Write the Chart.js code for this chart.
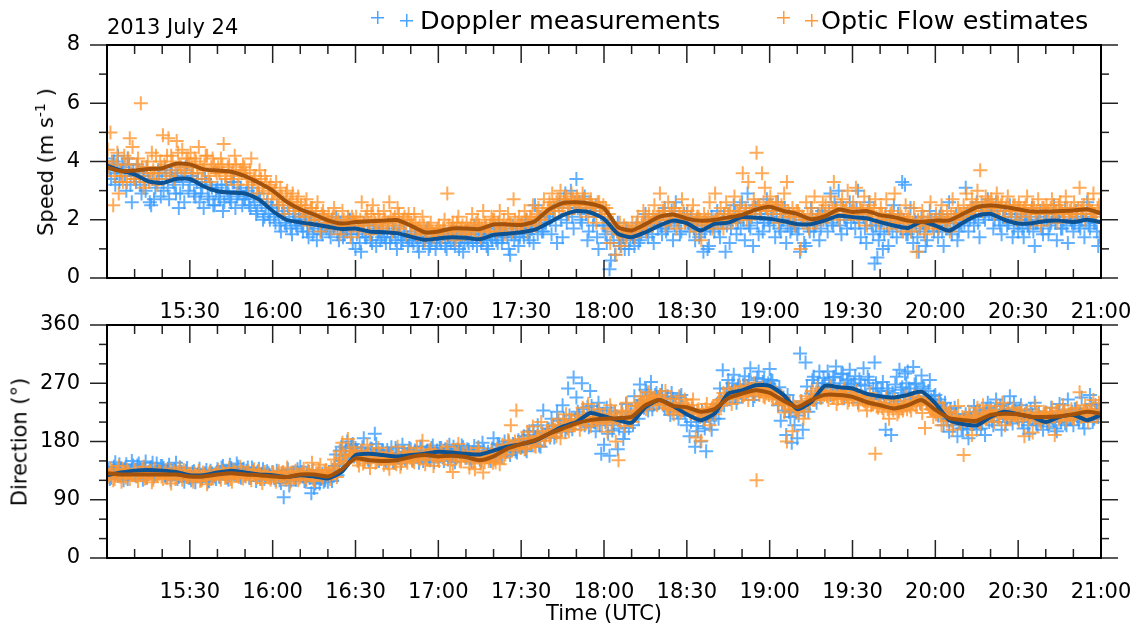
<!DOCTYPE html>
<html>
<head>
<meta charset="utf-8">
<script src="https://cdn.jsdelivr.net/npm/chart.js@4.4.1/dist/chart.umd.min.js"></script>
<style>
  body { margin: 0; width: 1138px; height: 627px; background: #fff; position: relative; overflow: hidden;
         font-family: "DejaVu Sans", sans-serif; color: #000; }
  canvas { position: absolute; left: 0; }
  .txt { position: absolute; white-space: nowrap; line-height: 1; }
  .rot { position: absolute; white-space: nowrap; line-height: 1; font-size: 21px;
         transform: translate(-50%, -50%) rotate(-90deg); }
  .mk { position: absolute; width: 13px; height: 13px; }
</style>
</head>
<body>
<canvas id="speedChart" width="1138" height="320" style="top:0"></canvas>
<canvas id="dirChart" width="1138" height="347" style="top:280px"></canvas>

<div class="txt" style="left:107px;top:17px;font-size:21px">2013 July 24</div>
<div class="mk" style="left:371px;top:11px;background:linear-gradient(#4aa3ff,#4aa3ff) center/1.5px 100% no-repeat,linear-gradient(#4aa3ff,#4aa3ff) center/100% 1.5px no-repeat"></div>
<div class="mk" style="left:400px;top:14px;background:linear-gradient(#4aa3ff,#4aa3ff) center/1.5px 100% no-repeat,linear-gradient(#4aa3ff,#4aa3ff) center/100% 1.5px no-repeat"></div>
<div class="txt" style="left:420px;top:8px;font-size:25.5px">Doppler measurements</div>
<div class="mk" style="left:777px;top:11px;background:linear-gradient(#ff9a3c,#ff9a3c) center/1.5px 100% no-repeat,linear-gradient(#ff9a3c,#ff9a3c) center/100% 1.5px no-repeat"></div>
<div class="mk" style="left:805px;top:14px;background:linear-gradient(#ff9a3c,#ff9a3c) center/1.5px 100% no-repeat,linear-gradient(#ff9a3c,#ff9a3c) center/100% 1.5px no-repeat"></div>
<div class="txt" style="left:821px;top:8px;font-size:25.5px">Optic Flow estimates</div>

<div class="rot" style="left:45px;top:162px">Speed (m s<sup style="font-size:14px">-1</sup> )</div>
<div class="rot" style="left:20px;top:442px">Direction (°)</div>
<div class="txt" style="left:604px;top:603px;font-size:21px;transform:translateX(-50%)">Time (UTC)</div>

<script>
// minutes after 15:00 UTC
// smoothed curves, one value every 5 minutes (15:00 .. 21:00)
const dopplerSpeedSmooth = [
  3.86,3.69,3.56,3.32,3.26,3.40,3.40,3.15,2.98,2.93,2.90,2.70,2.30,2.00,1.91,1.84,1.76,1.68,1.70,1.60,
  1.57,1.54,1.42,1.31,1.36,1.40,1.38,1.33,1.48,1.52,1.57,1.66,1.90,2.15,2.30,2.25,2.03,1.52,1.40,1.57,
  1.80,1.97,1.88,1.63,1.86,1.90,2.09,2.07,2.03,1.95,1.85,1.85,1.98,2.14,2.09,2.05,1.92,1.80,1.72,1.93,
  1.80,1.62,1.90,2.14,2.20,2.00,1.87,1.88,1.96,1.97,1.92,2.00,1.92
];
const opticSpeedSmooth = [
  3.80,3.67,3.69,3.74,3.77,3.92,3.90,3.73,3.69,3.65,3.50,3.27,3.00,2.62,2.36,2.18,1.98,1.87,1.92,1.95,
  1.97,1.99,1.80,1.57,1.60,1.70,1.70,1.68,1.84,1.84,1.82,1.95,2.35,2.57,2.60,2.55,2.40,1.75,1.63,1.85,
  2.10,2.18,2.04,1.97,2.00,2.08,2.17,2.35,2.45,2.30,2.20,2.02,2.12,2.35,2.27,2.30,2.16,2.09,1.97,1.92,
  1.97,1.98,2.20,2.43,2.49,2.44,2.36,2.28,2.28,2.30,2.32,2.36,2.22
];
const dopplerDirSmooth = [
  128,132,135,136,135,133,128,128,132,135,132,129,128,125,128,126,123,133,159,161,
  159,157,159,161,164,163,161,160,166,172,176,181,192,203,210,224,219,213,209,233,
  244,235,222,213,223,254,259,267,266,252,230,241,266,264,262,254,250,248,252,257,
  239,213,207,205,218,226,222,218,210,218,221,213,221
];
const opticDirSmooth = [
  131,129,129,129,129,129,126,126,129,131,129,128,126,125,129,129,126,137,154,151,
  150,151,156,159,157,158,156,151,157,169,176,182,192,200,208,213,215,216,218,236,
  244,235,233,226,230,247,254,259,255,243,233,244,252,252,249,241,236,231,236,244,
  229,216,213,212,221,223,222,218,218,219,222,226,223
];

// individual estimates, one value per minute in each list
// Doppler A on the minute, Doppler B +30 s; optic flow A +15 s, optic flow B +45 s
const dopplerSpeedA = [
  4.1,3.7,3.9,3.2,4.2,3.6,3.8,3.0,3.9,2.6, 3.5,3.9,3.2,3.6,3.0,3.4,2.5,2.7,3.3,3.6,
  3.4,3.8,3.1,3.6,3.3,2.9,2.4,3.5,2.6,3.9, 3.2,3.6,2.8,3.4,2.9,2.4,3.3,2.7,3.1,2.5,
  3.1,2.7,2.3,3.2,2.9,2.6,3.3,2.8,3.0,2.5, 2.7,3.0,2.4,2.8,2.2,2.9,2.5,2.1,2.6,2.0,
  2.4,1.9,2.2,1.6,2.3,1.8,2.1,1.5,2.0,1.7, 2.0,1.6,2.2,1.4,1.9,1.7,1.3,2.0,1.5,1.8,
  1.9,1.4,1.7,2.1,1.3,1.8,1.5,1.6,2.0,1.2, 1.0,1.7,0.9,1.9,1.4,1.6,1.2,1.8,1.5,1.3,
  1.7,1.2,1.9,1.4,1.6,1.0,1.8,1.3,1.5,1.1, 1.6,1.2,1.4,0.9,1.5,1.3,1.7,1.1,1.4,1.0,
  1.5,1.2,1.6,1.0,1.4,1.7,1.1,1.5,1.3,0.9, 1.6,1.2,1.4,1.8,1.1,1.5,1.3,1.7,1.0,1.4,
  1.7,1.3,1.9,1.2,1.6,1.4,0.8,1.8,1.5,1.1, 1.8,1.4,2.0,1.3,1.7,2.5,1.5,2.1,1.6,1.9,
  2.1,1.5,2.4,1.2,2.6,1.4,2.9,2.2,3.0,1.7, 3.4,2.6,1.9,2.8,1.3,2.4,1.8,2.5,1.0,2.2,
  1.8,1.2,0.3,1.6,0.8,1.9,1.1,1.4,1.7,1.0, 1.6,1.1,1.9,1.3,1.7,2.2,1.4,1.8,1.2,2.0,
  2.1,1.5,2.4,1.7,2.0,1.3,2.6,1.9,1.6,2.2, 2.2,1.6,1.9,1.3,2.0,1.5,0.9,1.8,1.1,2.1,
  1.6,2.3,1.4,2.0,0.9,2.2,1.7,2.5,1.5,2.1, 2.6,1.3,2.9,1.7,1.1,2.4,1.5,2.2,1.9,2.7,
  1.8,2.3,1.4,2.6,1.6,2.0,1.2,2.2,1.7,1.9, 1.5,0.9,2.1,1.1,1.8,2.4,1.6,2.0,1.3,2.3,
  2.2,1.6,2.9,1.8,2.4,3.0,1.5,2.1,1.7,2.6, 2.3,1.7,3.0,1.4,2.1,1.2,2.6,1.8,0.5,0.7,
  1.6,1.0,2.2,1.1,1.9,2.5,1.4,2.0,3.3,3.2, 1.5,2.4,1.2,1.9,0.9,2.1,1.6,1.3,2.3,1.8,
  2.0,1.4,2.2,1.1,1.7,2.6,1.5,2.0,1.3,1.9, 2.1,3.1,1.6,2.3,1.8,2.6,1.4,2.4,2.0,2.7,
  2.4,1.7,2.6,2.0,1.5,2.3,1.8,2.5,1.4,2.1, 1.6,2.2,1.4,2.0,1.7,2.4,1.1,1.9,2.3,1.5,
  2.2,1.5,1.9,2.5,1.3,2.1,1.7,2.4,1.2,2.0, 1.6,2.3,1.8,2.0,1.4,2.6,1.7,2.2,1.9,1.1
];
const dopplerSpeedB = [
  3.8,3.4,4.0,3.6,3.3,3.9,3.5,4.1,3.2,3.7, 3.3,3.7,2.9,3.5,3.8,2.6,3.4,3.1,3.7,2.8,
  3.0,3.5,2.7,3.7,3.2,3.6,2.9,3.3,3.8,3.0, 3.5,2.9,3.3,2.6,3.1,3.4,2.8,3.2,2.5,3.0,
  2.8,3.2,2.6,3.0,2.7,3.3,2.4,2.9,3.1,2.7, 2.9,2.5,3.1,2.6,2.3,2.7,2.0,2.4,2.2,2.5,
  2.1,2.5,1.8,2.2,1.9,2.4,1.7,2.2,1.8,2.1, 1.8,2.1,1.6,1.9,1.5,2.1,1.8,1.6,2.1,1.7,
  1.6,2.0,1.8,1.5,1.9,1.4,1.7,2.0,1.5,1.8, 1.5,1.2,1.6,1.4,1.8,1.3,1.7,1.1,1.6,1.4,
  1.4,1.6,1.2,1.7,1.3,1.5,1.2,1.6,1.4,1.3, 1.3,1.5,1.1,1.4,1.2,1.6,1.0,1.3,1.5,1.2,
  1.3,1.5,1.1,1.4,1.2,1.3,1.6,1.0,1.4,1.2, 1.3,1.5,1.2,1.4,1.6,1.2,1.4,1.1,1.5,1.3,
  1.5,1.2,1.6,1.4,1.7,1.0,1.5,1.3,1.7,1.4, 1.6,1.9,1.5,1.7,1.2,1.8,2.0,1.6,1.9,2.2,
  2.0,2.3,1.8,2.5,2.0,2.7,1.9,2.4,2.1,2.6, 2.4,2.0,2.7,2.2,1.6,2.5,2.1,1.4,2.3,1.8,
  1.5,2.0,0.6,1.3,1.7,1.2,1.5,1.0,1.6,1.3, 1.4,1.7,1.2,1.5,1.9,1.6,1.8,1.5,2.0,1.7,
  1.8,2.2,1.6,1.9,2.3,1.8,2.0,1.5,2.1,1.9, 1.9,2.1,1.7,2.0,1.4,1.8,1.6,1.0,1.7,1.9,
  2.0,1.7,1.9,2.2,1.8,1.2,2.0,2.3,1.9,1.7, 2.0,2.3,1.8,2.1,2.5,1.9,2.2,1.6,2.4,2.0,
  2.1,1.9,2.2,1.7,2.0,2.4,1.8,1.6,2.1,1.8, 1.7,2.0,1.2,1.9,1.6,2.1,1.8,2.2,1.7,2.0,
  2.0,2.3,1.9,2.6,2.1,1.8,2.4,2.0,2.2,1.9, 2.1,2.4,1.9,2.2,1.7,2.3,2.0,1.5,1.8,1.3,
  1.9,1.5,1.8,2.1,1.6,1.9,2.2,1.7,2.0,1.5, 1.8,1.6,2.0,1.4,1.7,1.9,1.1,1.8,2.0,1.6,
  1.8,2.1,1.6,1.9,2.0,1.7,1.9,2.2,1.6,1.8, 1.9,2.2,2.0,2.4,2.1,1.9,2.3,2.1,2.5,2.2,
  2.2,2.0,2.3,1.8,2.1,2.4,1.9,2.2,1.7,2.0, 1.9,1.7,2.1,1.8,2.0,1.6,1.9,2.1,1.7,2.0,
  2.0,1.8,2.2,1.9,2.1,1.7,2.0,1.8,2.2,1.9, 1.9,2.1,1.7,2.2,2.0,1.8,2.1,1.9,1.6,1.4
];
const opticSpeedA = [
  4.4,5.0,2.5,3.9,2.9,3.5,4.2,3.3,4.8,4.5, 3.4,4.1,6.0,3.1,3.8,3.3,4.3,3.6,3.2,4.0,
  4.9,3.6,4.8,4.2,3.4,4.7,3.9,4.4,3.7,4.1, 4.3,3.6,4.0,4.5,3.4,3.9,4.2,3.3,4.1,3.7,
  3.8,4.1,4.6,3.4,3.9,3.6,4.2,3.2,3.7,3.9, 3.6,3.2,4.1,3.4,2.9,3.7,3.1,3.5,2.7,3.2,
  2.9,3.3,2.5,2.8,2.2,3.0,2.6,2.9,2.3,2.8, 2.5,2.1,2.7,1.8,2.4,2.0,2.6,1.6,2.3,1.9,
  2.2,1.7,2.4,1.9,1.5,2.3,1.8,2.1,1.4,2.0, 2.1,1.6,2.6,1.8,2.3,1.5,2.5,1.9,2.2,1.7,
  2.3,1.8,2.6,1.6,2.1,2.4,1.7,2.0,1.5,2.2, 1.9,2.2,1.5,1.8,2.1,1.3,1.7,1.9,1.4,1.6,
  1.8,1.4,2.0,2.9,1.6,1.9,1.3,2.1,1.7,1.5, 1.9,1.5,2.2,1.7,2.0,1.4,2.3,1.8,1.6,2.1,
  2.0,1.6,2.3,1.8,1.5,2.2,1.9,2.7,1.7,2.1, 1.9,2.3,1.6,2.1,2.5,1.8,2.4,2.0,2.7,2.2,
  2.6,2.9,2.3,2.7,3.0,2.4,2.8,2.2,2.9,2.5, 2.8,2.3,2.9,2.5,2.1,2.7,2.4,1.9,2.6,2.2,
  2.1,1.7,1.2,1.9,0.8,1.5,1.1,1.8,1.4,1.6, 1.9,1.4,2.1,1.7,2.3,1.6,2.2,1.9,2.5,2.0,
  2.9,2.3,1.8,2.6,2.0,2.4,1.7,2.2,2.7,1.9, 2.3,1.8,2.5,1.6,2.1,1.3,2.2,1.9,2.6,1.7,
  2.9,2.0,2.4,1.7,2.6,2.2,1.9,2.8,2.3,2.5, 3.6,2.4,3.3,2.1,2.7,4.3,2.5,3.6,3.1,2.3,
  2.8,2.2,2.6,1.9,2.5,2.9,3.3,2.1,2.4,1.8, 2.3,1.0,2.0,2.6,1.7,2.4,2.8,1.9,2.2,2.6,
  2.5,2.1,2.8,3.3,2.4,2.0,2.7,2.3,3.0,2.2, 2.6,3.1,2.0,2.4,2.8,1.8,2.5,2.2,2.7,1.9,
  2.4,2.0,2.7,1.7,2.3,2.9,1.9,2.2,1.6,2.5, 2.1,1.6,2.4,0.9,1.8,2.3,1.5,2.0,2.6,1.7,
  2.2,1.7,2.5,1.9,2.3,1.6,2.7,2.0,2.4,2.2, 2.5,2.9,2.2,2.7,2.4,3.0,3.7,2.3,2.8,2.6,
  2.7,2.2,2.9,2.4,2.6,2.1,2.8,2.3,2.5,2.0, 2.6,2.1,2.4,2.8,1.9,2.5,2.2,2.7,1.8,2.4,
  2.5,2.0,2.7,2.3,1.9,2.6,2.2,2.8,2.1,2.4, 2.6,2.2,3.1,2.4,2.0,2.7,2.3,2.9,2.1,2.5
];
const opticSpeedB = [
  3.8,4.0,3.5,4.3,3.7,3.3,3.9,4.1,3.6,3.4, 3.9,3.5,3.8,3.3,4.0,3.6,3.7,4.2,3.4,3.8,
  3.9,4.2,3.5,4.0,3.7,4.3,3.8,3.6,4.1,3.9, 3.8,4.1,3.6,3.9,3.7,4.2,3.5,3.8,3.9,3.6,
  3.6,3.9,3.5,3.8,3.4,3.7,3.9,3.5,3.6,3.8, 3.4,3.7,3.3,3.5,3.2,3.4,3.0,3.3,3.1,2.9,
  3.0,2.7,3.1,2.6,2.9,2.5,2.7,2.4,2.6,2.3, 2.3,2.5,2.2,2.4,2.1,2.3,2.0,2.2,2.1,2.0,
  1.9,2.1,1.8,2.0,1.7,2.0,1.9,1.8,2.1,1.9, 1.9,2.0,1.8,2.1,1.9,2.2,2.0,1.8,2.0,1.9,
  2.0,1.9,2.1,2.0,1.8,2.2,1.9,2.1,2.0,1.8, 1.8,1.9,1.7,1.6,1.8,1.5,1.7,1.6,1.5,1.7,
  1.6,1.7,1.5,1.8,1.6,1.7,1.9,1.6,1.8,1.7, 1.7,1.8,1.6,1.9,1.8,1.7,1.9,1.6,1.8,2.0,
  1.8,1.9,1.7,2.0,1.8,1.9,1.6,2.0,1.9,1.8, 1.8,2.0,1.9,2.1,1.9,2.2,2.0,2.3,2.2,2.4,
  2.4,2.5,2.6,2.3,2.5,2.7,2.6,2.5,2.7,2.6, 2.6,2.5,2.7,2.4,2.6,2.5,2.3,2.6,2.4,2.5,
  2.4,2.2,1.9,1.7,1.6,1.9,1.6,1.4,1.7,1.5, 1.6,1.8,1.7,1.9,1.8,2.0,1.9,2.1,2.0,2.2,
  2.1,2.3,2.0,2.2,2.1,2.4,2.0,2.1,2.3,2.0, 2.0,2.2,1.9,2.1,2.0,1.8,2.0,2.1,1.9,2.0,
  2.0,2.1,1.9,2.2,2.0,2.3,2.1,2.0,2.2,2.1, 2.2,2.0,2.3,2.4,2.2,2.5,2.3,2.6,2.4,2.5,
  2.5,2.4,2.6,2.3,2.4,2.2,2.3,2.1,2.2,2.3, 2.2,2.1,2.0,2.2,2.1,1.9,2.0,2.1,2.0,2.2,
  2.1,2.2,2.4,2.3,2.2,2.5,2.3,2.4,2.2,2.3, 2.3,2.2,2.4,2.3,2.1,2.3,2.2,2.4,2.1,2.2,
  2.2,2.1,2.0,2.2,2.1,1.9,2.0,2.1,1.9,2.0, 2.0,1.9,1.8,2.0,1.9,2.1,1.8,1.9,2.0,1.9,
  1.9,2.0,2.1,1.9,2.0,2.2,2.1,2.0,2.2,2.1, 2.2,2.3,2.4,2.3,2.5,2.4,2.6,2.5,2.4,2.5,
  2.5,2.4,2.6,2.5,2.3,2.5,2.4,2.3,2.5,2.4, 2.4,2.3,2.5,2.2,2.3,2.4,2.3,2.2,2.4,2.3,
  2.3,2.4,2.2,2.3,2.5,2.3,2.2,2.4,2.3,2.2, 2.3,2.4,2.3,2.5,2.2,2.4,2.3,2.2,2.4,2.3
];
const dopplerDirA = [
  140,122,135,148,127,138,120,145,131,150, 128,143,137,121,149,133,140,126,146,135,
  142,127,138,120,135,147,125,133,118,139, 124,133,117,130,122,128,136,119,131,126,
  137,125,142,130,121,139,133,146,128,136, 127,140,124,135,119,138,130,122,134,128,
  133,121,129,116,94,127,112,131,123,137,  141,126,118,134,100,108,125,115,130,120,
  118,127,135,160,145,172,158,180,165,176, 170,152,165,185,158,149,168,192,162,155,
  166,150,160,171,147,163,155,175,152,161, 168,153,164,147,172,158,166,151,174,160,
  157,170,150,166,175,159,148,168,162,171, 155,167,149,173,160,152,178,158,164,150,
  185,162,174,156,180,168,159,176,165,182, 171,188,165,196,178,184,205,172,228,190,
  199,215,186,226,205,236,195,262,212,279, 248,222,270,205,233,258,214,196,240,161,
  175,232,158,197,225,168,210,184,238,201, 222,250,235,268,244,260,228,272,238,255,
  240,258,232,250,221,246,237,215,252,228, 205,188,230,172,196,180,210,165,222,198,
  215,238,262,290,248,275,255,283,240,268, 252,281,265,293,244,270,288,258,276,262,
  292,274,260,236,212,248,190,226,178,205, 185,316,198,302,226,254,280,240,288,265,
  270,288,252,279,296,260,284,247,274,291, 255,281,240,268,293,250,275,238,302,262,
  246,272,198,258,190,237,280,291,264,285, 288,256,295,270,248,282,262,240,275,230,
  252,220,238,205,226,195,214,232,188,210, 200,222,185,215,235,198,228,210,190,240,
  232,205,245,220,198,238,215,250,208,228, 215,236,200,228,192,222,240,205,218,198,
  225,203,232,212,196,238,220,208,245,215, 205,230,212,248,200,225,252,210,236,218
];
const dopplerDirB = [
  136,124,141,130,145,127,138,122,134,143, 127,146,133,140,124,138,147,129,136,142,
  139,126,144,131,137,122,140,128,135,124, 120,134,127,138,123,131,118,135,129,122,
  126,140,132,124,144,135,128,141,124,138, 135,124,140,129,133,122,137,126,131,124,
  124,135,120,131,126,137,119,132,121,129, 133,119,129,124,136,115,131,122,118,128,
  126,119,142,128,166,150,170,152,174,157, 166,154,171,160,152,169,157,176,150,165,
  152,167,158,149,170,161,146,164,156,170, 151,166,157,172,150,163,155,170,148,166,
  170,156,168,152,163,172,155,165,174,158, 168,154,163,157,171,150,166,160,155,169,
  158,176,162,170,164,180,166,175,163,178, 182,168,190,175,196,181,174,193,185,200,
  186,204,193,212,198,215,202,220,199,214, 226,208,230,215,202,235,210,228,205,222,
  210,192,228,205,218,200,226,195,215,222, 205,226,215,240,232,256,240,230,252,246,
  252,236,248,230,255,240,226,248,234,220, 230,210,225,204,218,228,200,220,212,226,
  228,215,245,236,262,250,270,248,266,255, 268,254,275,262,250,278,260,272,256,270,
  275,262,250,264,240,228,252,218,240,225, 220,242,230,265,238,275,252,270,248,278,
  258,275,262,280,255,270,285,260,276,268, 270,258,276,250,266,280,245,262,270,248,
  258,240,262,245,255,268,242,260,250,270, 262,245,268,255,240,265,250,258,245,250,
  235,245,225,240,215,230,205,222,212,200, 215,198,220,208,225,212,200,222,230,210,
  212,228,218,235,222,210,230,218,240,225, 228,210,222,205,230,215,208,225,212,220,
  208,222,215,200,225,210,228,205,220,226, 230,215,225,210,228,220,238,215,224,230
];
const opticDirA = [
  125,138,120,133,142,118,130,136,122,128, 135,119,128,141,124,132,117,138,127,133,
  122,136,129,115,134,126,140,121,131,125, 130,118,127,135,120,129,114,133,124,128,
  136,121,131,125,139,118,132,127,141,123, 126,134,120,137,124,130,116,133,128,121,
  131,118,134,122,128,140,115,127,135,120, 126,138,121,133,147,119,129,144,124,136,
  131,140,152,125,165,178,148,184,160,171, 158,143,166,150,175,139,161,147,170,153,
  144,162,138,156,149,172,141,158,153,165, 163,148,170,152,181,145,160,168,142,157,
  150,166,155,172,144,133,161,176,149,158, 163,140,155,137,170,146,132,159,150,165,
  152,168,145,175,160,182,205,170,228,178, 184,168,195,176,203,172,188,210,181,196,
  188,205,198,215,185,210,222,196,214,205, 220,198,232,210,238,204,225,216,230,208,
  222,195,236,212,180,151,228,204,240,218, 210,235,226,250,238,230,256,242,248,236,
  252,238,258,230,246,222,240,250,228,245, 236,224,245,186,230,181,215,238,205,232,
  222,240,235,255,246,262,238,258,248,265, 250,266,244,260,270,120,252,264,248,258,
  262,245,256,238,250,225,180,240,196,230, 228,242,215,250,236,258,244,262,248,255,
  258,244,265,250,238,256,247,262,240,254, 245,258,236,250,242,228,255,238,161,232,
  240,226,248,215,235,244,222,238,228,250, 242,228,250,236,246,224,201,238,230,218,
  222,240,205,230,212,226,198,218,235,208, 159,215,226,190,220,232,208,236,214,225,
  228,210,235,218,240,205,226,215,232,220, 212,230,188,225,218,194,235,220,208,226,
  224,210,232,190,228,218,236,212,222,230, 215,232,256,220,236,210,228,244,218,240
];
const opticDirB = [
  128,135,122,131,126,138,124,133,129,136, 126,132,137,123,130,135,121,129,134,126,
  131,124,137,128,122,133,127,136,125,130, 123,131,126,119,132,125,130,122,128,131,
  127,134,124,130,122,136,128,125,133,129, 131,124,133,127,135,122,130,126,124,132,
  124,130,127,133,121,126,132,123,129,124, 132,125,134,127,122,131,136,126,133,128,
  122,130,137,145,155,160,150,166,157,163, 150,160,146,157,163,152,158,149,162,155,
  155,146,160,152,145,158,150,163,147,155, 150,160,155,163,157,152,166,158,163,152,
  162,155,165,158,152,163,156,150,162,155, 155,162,149,158,165,153,148,156,160,147,
  148,157,163,155,168,175,166,180,172,170, 178,170,185,180,174,188,182,192,186,195,
  190,196,188,202,198,206,200,212,205,210, 214,206,218,210,222,212,218,208,220,215,
  212,220,208,225,216,210,222,215,226,212, 222,228,236,240,246,242,250,244,238,248,
  246,240,232,238,228,236,230,225,232,236, 230,236,222,228,218,224,230,220,228,234,
  236,244,240,250,246,255,248,256,252,258, 252,258,262,256,254,262,258,250,256,252,
  250,254,248,246,240,236,238,230,234,228, 232,236,226,240,246,244,250,254,248,252,
  250,256,248,254,246,252,258,250,244,248, 252,246,250,244,238,242,236,240,234,238,
  232,238,230,235,228,234,226,232,238,230, 234,240,236,244,238,248,242,236,230,226,
  226,220,232,218,224,212,220,216,210,218, 212,216,208,214,220,210,218,224,216,222,
  220,226,218,224,228,222,216,226,220,224, 224,218,222,214,220,216,224,212,218,222,
  216,222,218,226,214,220,224,218,222,216, 222,226,218,228,224,230,222,226,220,228
];

const SMOOTH_STEP = 5;  // minutes between smoothed values
const BLUE_PT = 'rgba(58,156,255,0.8)';
const ORANGE_PT = 'rgba(255,150,48,0.8)';
const BLUE_LINE = '#0d5394';
const BROWN_LINE = '#a3520c';

Chart.defaults.font.family = "'DejaVu Sans', sans-serif";
Chart.defaults.color = '#000';

function toPoints(values, step, offset) {
    return values.map((v, i) => ({ x: i * step + offset, y: v }));
}

function timeLabel(m) {
    const h = 15 + Math.floor(m / 60);
    const mm = m % 60;
    return h + ':' + (mm < 10 ? '0' : '') + mm;
}

// frame and major/minor tick marks, drawn from the scales
const frameTicks = {
    id: 'frameTicks',
    afterDatasetsDraw(chart, args, opts) {
        const { ctx, chartArea: a, scales: { x, y } } = chart;
        ctx.save();
        ctx.strokeStyle = '#222';
        ctx.lineWidth = 1.5;
        const seg = (x1, y1, x2, y2) => { ctx.beginPath(); ctx.moveTo(x1, y1); ctx.lineTo(x2, y2); ctx.stroke(); };
        // time ticks point inwards, every 10 min, longer every 30
        for (let m = 0; m <= 360; m += 10) {
            const px = x.getPixelForValue(m);
            const len = m % 30 === 0 ? 18 : 9;
            seg(px, a.bottom, px, a.bottom - len);
            seg(px, a.top, px, a.top + len);
        }
        // value ticks point outwards on both sides
        const n = Math.round((y.max - y.min) / opts.minor);
        for (let k = 0; k <= n; k++) {
            const v = y.min + k * opts.minor;
            const py = y.getPixelForValue(v);
            const len = (k * opts.minor) % opts.major === 0 ? 17 : 8;
            seg(a.left - len, py, a.left, py);
            seg(a.right, py, a.right + len, py);
        }
        ctx.lineWidth = 2;
        ctx.strokeStyle = '#000';
        ctx.strokeRect(a.left, a.top, a.right - a.left, a.bottom - a.top);
        ctx.restore();
    }
};

function crossSet(values, offset, color, order) {
    return {
        data: toPoints(values, 1, offset), order: order,
        pointStyle: 'cross', radius: 7, borderWidth: 2, borderColor: color
    };
}

function makeChart(id, dopA, dopB, optA, optB, dopplerSmooth, opticSmooth, yMax, yStep, minor, xHeight) {
    const ctx = document.getElementById(id).getContext('2d');
    return new Chart(ctx, {
        type: 'scatter',
        data: {
            datasets: [
                {
                    type: 'line', data: toPoints(opticSmooth, SMOOTH_STEP, 0), order: 0,
                    borderColor: BROWN_LINE, borderWidth: 4, pointRadius: 0, tension: 0.2, fill: false
                },
                {
                    type: 'line', data: toPoints(dopplerSmooth, SMOOTH_STEP, 0), order: 1,
                    borderColor: BLUE_LINE, borderWidth: 4, pointRadius: 0, tension: 0.2, fill: false
                },
                crossSet(optA, 0.25, ORANGE_PT, 2),
                crossSet(optB, 0.75, ORANGE_PT, 3),
                crossSet(dopA, 0, BLUE_PT, 4),
                crossSet(dopB, 0.5, BLUE_PT, 5)
            ]
        },
        options: {
            responsive: false,
            animation: false,
            layout: { padding: { top: 45, right: 37, left: 0, bottom: 0 } },
            plugins: {
                legend: { display: false },
                tooltip: { enabled: false },
                frameTicks: { minor: minor, major: yStep }
            },
            scales: {
                x: {
                    type: 'linear', min: 0, max: 360,
                    grid: { display: false, drawTicks: false }, border: { display: false },
                    afterBuildTicks: (s) => { s.ticks = s.ticks.filter(t => t.value > 0); },
                    afterFit: (s) => { s.height = xHeight; s.paddingLeft = 0; s.paddingRight = 0; },
                    ticks: {
                        stepSize: 30, autoSkip: false, maxRotation: 0, padding: 22,
                        font: { size: 21 }, color: '#000',
                        callback: (v) => timeLabel(v)
                    }
                },
                y: {
                    min: 0, max: yMax,
                    grid: { display: false, drawTicks: false }, border: { display: false },
                    afterFit: (s) => { s.width = 107; s.paddingTop = 0; s.paddingBottom = 0; },
                    ticks: { stepSize: yStep, padding: 27, font: { size: 21 }, color: '#000' }
                }
            }
        },
        plugins: [frameTicks]
    });
}

makeChart('speedChart', dopplerSpeedA, dopplerSpeedB, opticSpeedA, opticSpeedB,
          dopplerSpeedSmooth, opticSpeedSmooth, 8, 2, 1, 42);
makeChart('dirChart', dopplerDirA, dopplerDirB, opticDirA, opticDirB,
          dopplerDirSmooth, opticDirSmooth, 360, 90, 30, 69);
</script>
</body>
</html>
